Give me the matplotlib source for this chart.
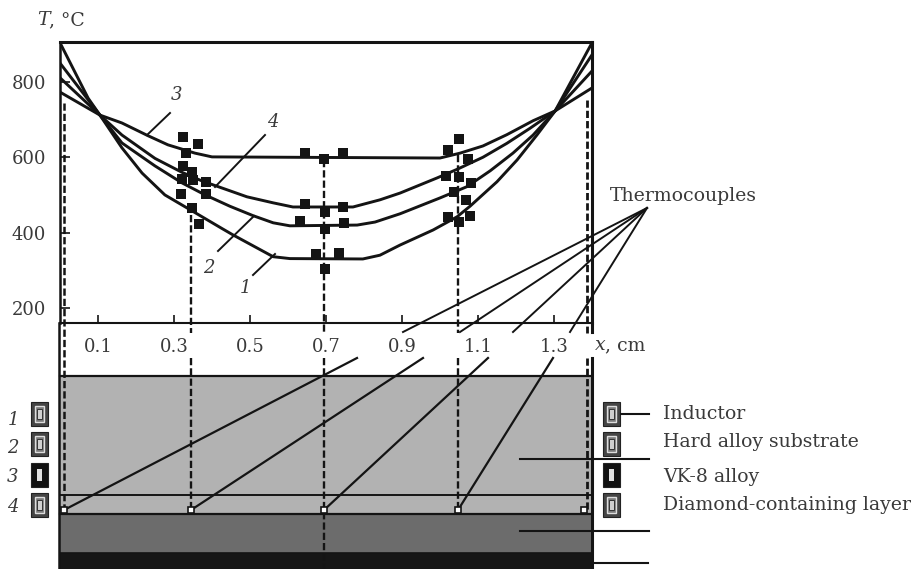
import matplotlib
matplotlib.use("Agg")
import matplotlib.pyplot as plt
from matplotlib.patches import Rectangle

plt.rcParams['font.family'] = ['DejaVu Serif', 'Liberation Serif']
plt.rcParams['lines.scale_dashes'] = False

x_ticks = [0.1, 0.3, 0.5, 0.7, 0.9, 1.1, 1.3]
y_ticks = [200, 400, 600, 800]

curve1_x = [0, .074, .105, .163, .216, .276, .308, .347, .426, .455, .561, .605, .797, .842, .895, .982, 1.045, 1.079, 1.15, 1.203, 1.255, 1.303, 1.4]
curve1_y = [904, 757, 712, 625, 558, 500, 481, 458, 411, 394, 336, 331, 330, 340, 367, 407, 442, 470, 535, 593, 659, 723, 904]
curve2_x = [0, .105, .163, .25, .321, .382, .447, .508, .561, .605, .782, .829, .895, 1.0, 1.071, 1.132, 1.192, 1.245, 1.303, 1.4]
curve2_y = [850, 712, 638, 577, 532, 500, 470, 445, 426, 418, 420, 428, 450, 492, 522, 564, 611, 659, 723, 872]
curve3_x = [0, .105, .163, .232, .284, .355, .40, 1.0, 1.053, 1.113, 1.176, 1.245, 1.303, 1.4]
curve3_y = [773, 712, 691, 657, 633, 611, 601, 598, 611, 630, 660, 697, 723, 784]
curve4_x = [0, .105, .163, .25, .321, .374, .492, .561, .613, .771, .842, .895, .992, 1.045, 1.113, 1.176, 1.237, 1.303, 1.4]
curve4_y = [811, 712, 659, 597, 560, 537, 495, 479, 468, 468, 487, 505, 545, 568, 600, 637, 677, 723, 829]

points_x = [.323, .364, .332, .323, .347, .349, .320, .384, .383, .318, .348, .367,
            .645, .695, .745, .645, .697, .745, .632, .697, .747, .674, .697, .734,
            1.05, 1.021, 1.074, 1.016, 1.05, 1.082, 1.037, 1.068, 1.021, 1.05, 1.079]
points_y = [653, 635, 612, 578, 562, 540, 542, 533, 502, 502, 466, 423,
            611, 596, 611, 475, 455, 468, 431, 410, 425, 343, 303, 346,
            649, 619, 595, 550, 548, 532, 508, 487, 441, 428, 444]

legend_labels = ['Inductor', 'Hard alloy substrate', 'VK-8 alloy', 'Diamond-containing layer']
curve_names = ['1', '2', '3', '4']

W, H = 912, 569
INK = '#141414'
TXT = '#3a3a3a'
FS = 13.0
FW = 13.6

fig = plt.figure(figsize=(W / 100, H / 100), dpi=100, facecolor='white')
ax = fig.add_axes([60 / W, 1 - 323 / H, 532 / W, 281 / H])
ax.set_xlim(0, 1.4)
ax.set_ylim(160, 906)
for c_x, c_y in [(curve1_x, curve1_y), (curve2_x, curve2_y), (curve3_x, curve3_y), (curve4_x, curve4_y)]:
    ax.plot(c_x, c_y, color=INK, lw=2.1, solid_joinstyle='round', zorder=3)
ax.plot(points_x, points_y, ls='none', marker='s', ms=7.6, color=INK, mew=0, zorder=4)
ax.set_xticks(x_ticks)
ax.set_xticklabels([f'{v:.1f}' for v in x_ticks], fontsize=FS, color=TXT)
ax.set_yticks(y_ticks)
ax.set_yticklabels([str(v) for v in y_ticks], fontsize=FS, color=TXT)
ax.tick_params(axis='x', direction='in', length=6, width=1.2, color=INK, pad=11)
ax.tick_params(axis='y', direction='in', length=7, width=1.2, color=INK, pad=10)
ax.spines['top'].set_linewidth(2.2)
ax.spines['bottom'].set_linewidth(1.5)
ax.spines['left'].set_linewidth(1.8)
ax.spines['right'].set_linewidth(2.2)
for s in ax.spines.values():
    s.set_color(INK)

# overlay in pixel coordinates for the schematic and annotation
ov = fig.add_axes([0, 0, 1, 1], facecolor='none')
ov.set_xlim(0, W)
ov.set_ylim(H, 0)
ov.axis('off')

# layers
ov.add_patch(Rectangle((60, 376), 532, 138, fc='#b2b2b2', ec='none', zorder=1))
ov.add_patch(Rectangle((60, 514), 532, 39, fc='#6c6c6c', ec='none', zorder=1))
ov.add_patch(Rectangle((60, 553), 532, 16, fc='#161616', ec='none', zorder=1))
for yy, lw in [(376, 1.6), (495, 1.4), (514, 1.6), (553, 1.2)]:
    ov.plot([60, 592], [yy, yy], color=INK, lw=lw, zorder=2)
ov.plot([59.5, 59.5], [323, 569], color=INK, lw=1.8, zorder=2)
ov.plot([592, 592], [358, 569], color=INK, lw=2.2, zorder=2)
ov.plot([592, 592], [323, 332], color=INK, lw=2.2, zorder=2)

# dashed verticals
dash = (0, (5.2, 2.2))
ov.plot([64, 64], [103, 510], color=INK, lw=1.8, ls=dash, zorder=5)
for xx, top in [(191, 215), (324, 160), (458, 155)]:
    ov.plot([xx, xx], [top, 333], color=INK, lw=1.7, ls=dash, zorder=5)
    ov.plot([xx, xx], [358, 569 if xx == 324 else 510], color=INK, lw=1.7, ls=dash, zorder=5)
ov.plot([587, 587], [100, 333], color=INK, lw=2.0, ls=dash, zorder=5)
ov.plot([587, 587], [358, 510], color=INK, lw=2.0, ls=dash, zorder=5)

# thermocouple leaders
apex = (647, 208)
uppers = [(403, 332), (460, 332), (513, 332), (570, 332)]
lowers = [((357, 358), (64, 510)), ((423, 358), (191, 510)), ((488, 358), (324, 510)), ((553, 358), (458, 510))]
for u in uppers:
    ov.plot([apex[0], u[0]], [apex[1], u[1]], color=INK, lw=1.4, zorder=6)
for a, b in lowers:
    ov.plot([a[0], b[0]], [a[1], b[1]], color=INK, lw=1.6, zorder=6)
ov.plot([64, 191, 324, 458, 584], [510] * 5, ls='none', marker='s', ms=5, mfc='white', mec=INK, mew=1.2, zorder=7)

# curve number leaders and labels
for (x0, y0, x1, y1) in [(147, 135, 170, 113), (215, 187, 265, 135), (218, 251, 254, 216), (253, 275, 275, 254)]:
    ov.plot([x0, x1], [y0, y1], color=INK, lw=1.4, zorder=6)
for name, (xx, yy) in zip(['3', '4', '2', '1'], [(177, 95), (273, 122), (209, 268), (245, 288)]):
    ov.text(xx, yy, name, fontsize=FS, style='italic', color=TXT, ha='center', va='center')

# inductor icons
def icon(x, y, dark):
    ov.add_patch(Rectangle((x, y), 17, 24, fc='#111111' if dark else '#454545', ec='#222222', lw=0.8, zorder=3))
    if dark:
        ov.add_patch(Rectangle((x + 6, y + 6), 5, 12, fc='#e0e0e0', ec='none', zorder=4))
    else:
        ov.add_patch(Rectangle((x + 4, y + 4), 9, 16, fc='#7a7a7a', ec='#dddddd', lw=1.0, zorder=4))
        ov.add_patch(Rectangle((x + 6, y + 7), 5, 10, fc='#d0d0d0', ec='#333333', lw=0.7, zorder=5))

icon_tops = [402, 432, 463, 493]
for i, top in enumerate(icon_tops):
    icon(31, top, i == 2)
    icon(603.5, top, i == 2)
for name, yy in zip(curve_names, [420, 448, 477, 507]):
    ov.text(13, yy, name, fontsize=FS, style='italic', color=TXT, ha='center', va='center')

# right leader lines
for x0, x1, yy in [(621, 649, 414), (520, 649, 459), (520, 649, 531), (592, 648, 563)]:
    ov.plot([x0, x1], [yy, yy], color=INK, lw=1.5, zorder=6)

for label, yy in zip(legend_labels, [414, 442, 477, 505]):
    ov.text(663, yy, label, fontsize=FW, color=TXT, ha='left', va='center')
ov.text(610, 196, 'Thermocouples', fontsize=FW, color=TXT, ha='left', va='center')
ov.text(37, 20, 'T', fontsize=FW, style='italic', color=TXT, ha='left', va='center')
ov.text(49, 20, ', °C', fontsize=FW, color=TXT, ha='left', va='center')
ov.text(595, 345, 'x', fontsize=FW, style='italic', color=TXT, ha='left', va='center')
ov.text(605, 345, ', cm', fontsize=FW, color=TXT, ha='left', va='center')

fig.savefig('out.png', dpi=100)
